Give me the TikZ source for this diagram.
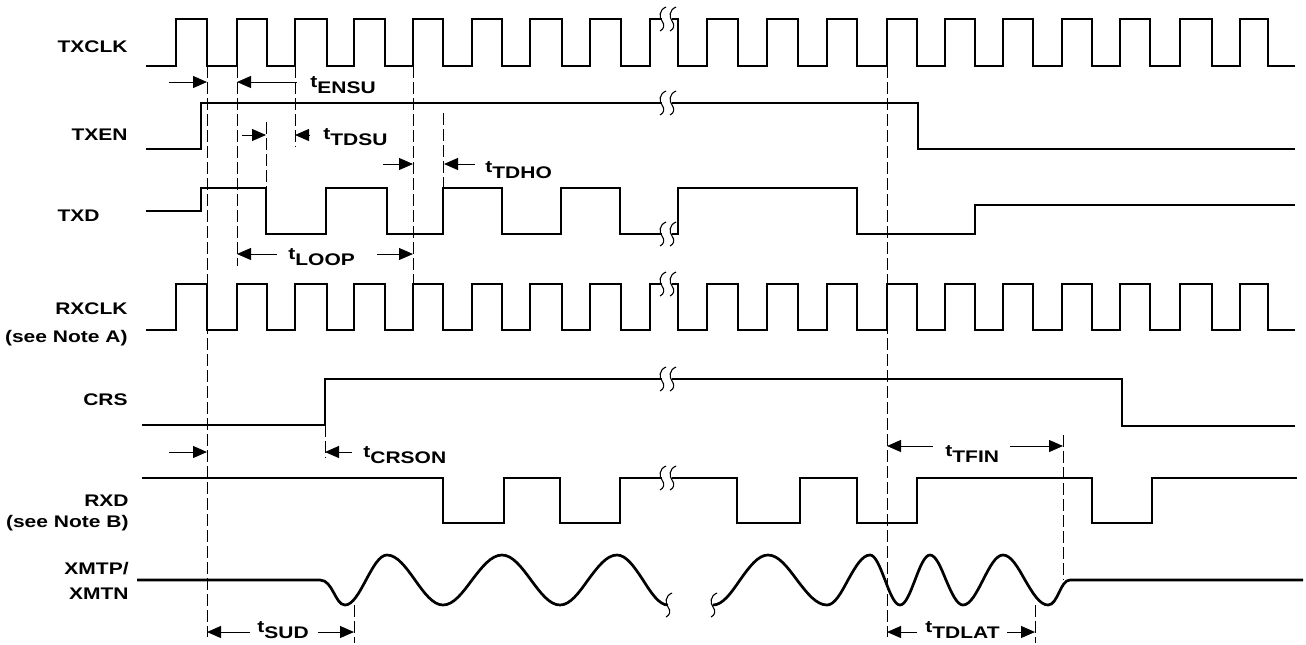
\documentclass[tikz,border=0pt]{standalone}
\usepackage{fontspec}
\newfontfamily\sigfont{Liberation Sans}[FakeStretch=1.25]
\usetikzlibrary{arrows.meta}
\tikzset{sig/.style = {line width=1.35pt, line join=miter},
         vline/.style = {line width=0.5pt, dash pattern=on 6pt off 2pt},
         dim/.style = {line width=0.5pt, -{Triangle[length=7pt,width=6pt]}},
         lbl/.style = {font=\sigfont\bfseries\fontsize{8.4}{10}\selectfont, inner sep=0pt},
         brk/.pic = {\foreach \d in {-5,5}
                       \draw [line width=0.55pt] (\d+4,-12) .. controls (\d-3,-9) and (\d-3,-2) .. (\d,2)
                         .. controls (\d+3,6) and (\d+2,10) .. (\d-2,12);},
         brkone/.pic = {\draw [line width=0.55pt] (4,-12) .. controls (-3,-9) and (-3,-2) .. (0,2)
                         .. controls (3,6) and (2,10) .. (-2,12);}}

\begin{document}
\begin{tikzpicture}[x=0.5pt, y=-0.5pt]
    \useasboundingbox (0,0) rectangle (1306,644);

    \node [lbl, anchor=east] (txclk) at (128,47) {TXCLK};
    \node [lbl, anchor=east] (txen) at (128,135) {TXEN};
    \node [lbl, anchor=east] (txd) at (100,216) {TXD};
    \node [lbl, anchor=north east, align=right] (rxclk) at (128,302) {RXCLK\\[4pt](see Note A)};
    \node [lbl, anchor=east] (crs) at (128,400) {CRS};
    \node [lbl, anchor=north east, align=right] (rxd) at (129,495) {RXD\\[0.5pt](see Note B)};
    \node [lbl, anchor=north east, align=right] (xmt) at (129,562) {XMTP/\\[2.5pt]XMTN};

    \foreach \x/\a/\b in {207/66/637, 237/66/266, 266/122/188, 295/66/147, 413/66/284, 443/113/188,
                          325/425/458, 887/66/637, 1063/435/580, 1035/605/643, 354/605/643}
      \draw [vline] (\x,\a) -- (\x,\b);

    \foreach \hi/\lo in {19/66, 284/330} {
      \draw [sig] (146,\lo) \foreach \r/\f in {176/207,237/267,295/327,354/385,413/443,472/502,530/562,590/621}
        { -- (\r,\lo) -- (\r,\hi) -- (\f,\hi) -- (\f,\lo) } -- (650,\lo) -- (650,\hi) -- (662,\hi);
      \draw [sig] (672,\hi) -- (678,\hi) -- (678,\lo)
        \foreach \r/\f in {707/738,767/798,827/857,887/917,945/975,1003/1033,1062/1092,1120/1150,1180/1212,1240/1268}
        { -- (\r,\lo) -- (\r,\hi) -- (\f,\hi) -- (\f,\lo) } -- (1295,\lo);
      \pic at (667,\hi) {brk};
    }

    \draw [sig] (146,149) -- (201,149) -- (201,103) -- (662,103);
    \draw [sig] (672,103) -- (918,103) -- (918,149) -- (1295,149);
    \pic at (667,103) {brk};

    \draw [sig] (146,211) -- (201,211) -- (201,188) -- (266,188) -- (266,234) -- (326,234) -- (326,188)
      -- (387,188) -- (387,234) -- (443,234) -- (443,188) -- (502,188) -- (502,234) -- (561,234)
      -- (561,188) -- (620,188) -- (620,234) -- (662,234);
    \draw [sig] (672,234) -- (678,234) -- (678,188) -- (857,188) -- (857,234) -- (975,234) -- (975,205) -- (1295,205);
    \pic at (667,234) {brk};

    \draw [sig] (142,425) -- (325,425) -- (325,379) -- (662,379);
    \draw [sig] (672,379) -- (1122,379) -- (1122,426) -- (1295,426);
    \pic at (667,379) {brk};

    \draw [sig] (142,478) -- (443,478) -- (443,523) -- (504,523) -- (504,478) -- (560,478) -- (560,523)
      -- (620,523) -- (620,478) -- (662,478);
    \draw [sig] (672,478) -- (737,478) -- (737,523) -- (800,523) -- (800,478) -- (857,478) -- (857,523)
      -- (917,523) -- (917,478) -- (1092,478) -- (1092,523) -- (1152,523) -- (1152,478) -- (1297,478);
    \pic at (667,478) {brk};

    \draw [sig] (137,580) -- (320,580) .. controls (333,580) and (335,605) .. (345,605)
      cos (366,580) sin (387,555) cos (415,580) sin (443,605) cos (472,580) sin (502,555)
      cos (531,580) sin (560,605) cos (588,580) sin (617,555) cos (643,580) sin (668,605);
    \draw [sig] (713,605) cos (740,580) sin (768,555) cos (797,580) sin (827,605) cos (848,580) sin (870,555)
      cos (885,580) sin (900,605) cos (915,580) sin (930,555) cos (946,580) sin (963,605) cos (983,580)
      sin (1003,555) cos (1025,580) sin (1048,605) .. controls (1058,605) and (1060,580) .. (1070,580) -- (1303,580);
    \pic at (668,605) {brkone};
    \pic at (713,605) {brkone};

    \node [lbl, anchor=west] (ensu) at (310,85) {t\raisebox{-3pt}{ENSU}};
    \draw [dim] (169,82) -- (207,82);
    \draw [dim] (297,82) -- (237,82);

    \node [lbl, anchor=west] (tdsu) at (323,137) {t\raisebox{-3pt}{TDSU}};
    \draw [dim] (242,135) -- (266,135);
    \draw [dim] (310,135) -- (295,135);

    \node [lbl, anchor=west] (tdho) at (485,170) {t\raisebox{-3pt}{TDHO}};
    \draw [dim] (383,164) -- (413,164);
    \draw [dim] (475,164) -- (444,164);

    \node [lbl, anchor=west] (loop) at (288,257) {t\raisebox{-3pt}{LOOP}};
    \draw [dim] (277,254) -- (237,254);
    \draw [dim] (377,254) -- (413,254);

    \node [lbl, anchor=west] (crson) at (363,455) {t\raisebox{-3pt}{CRSON}};
    \draw [dim] (169,452) -- (207,452);
    \draw [dim] (352,452) -- (325,452);

    \node [lbl, anchor=west] (tfin) at (945,454) {t\raisebox{-3pt}{TFIN}};
    \draw [dim] (933,446) -- (887,446);
    \draw [dim] (1010,446) -- (1063,446);

    \node [lbl, anchor=west] (tdlat) at (925,630) {t\raisebox{-3pt}{TDLAT}};
    \draw [dim] (917,632) -- (887,632);
    \draw [dim] (1007,632) -- (1035,632);

    \node [lbl, anchor=west] (sud) at (257,630) {t\raisebox{-3pt}{SUD}};
    \draw [dim] (250,632) -- (207,632);
    \draw [dim] (318,632) -- (354,632);
  \end{tikzpicture}
\end{document}
